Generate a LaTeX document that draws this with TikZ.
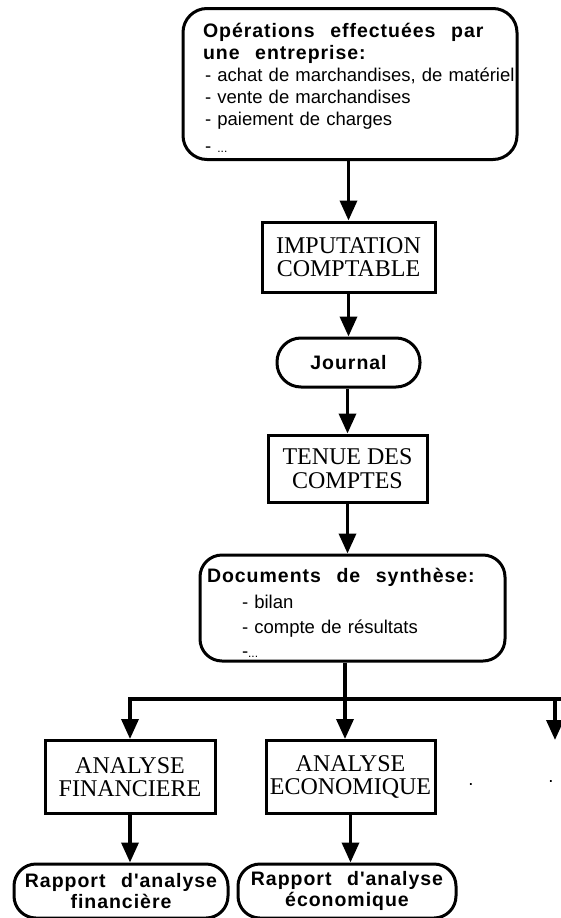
\documentclass[tikz,border=0pt]{standalone}
\usepackage{fontspec}
\usetikzlibrary{arrows.meta}
\setmainfont{Liberation Serif}
\newfontfamily\plainsans{Liberation Sans}
\newfontfamily\heavysans[LetterSpace=5]{Liberation Sans}

% text faces used in the chart
\newcommand{\capsfont}{\fontsize{24}{23.5}\selectfont}
\newcommand{\sansreg}{\plainsans\fontsize{18.5}{21.5}\selectfont}
\newcommand{\hb}[1]{{\heavysans\bfseries\fontsize{19.5}{21.5}\selectfont\spaceskip=0.8em\relax #1}}

\tikzset{
  sqbox/.style={draw, line width=3pt, font=\capsfont, align=center, inner sep=0pt},
  rndbox/.style={draw, line width=3pt, rounded corners=24pt, inner sep=0pt},
  arr/.style={line width=3.5pt, -{Triangle[width=17pt,length=20pt]}},
  link/.style={line width=3.5pt},
  dotmark/.style={inner sep=0pt, anchor=base, font=\sansreg},
}

\begin{document}
\begin{tikzpicture}[x=1pt, y=-1pt]
\useasboundingbox (0,0) rectangle (560,918);

% operations recorded by the firm
\node[rndbox, minimum width=334pt, minimum height=151pt, text width=330pt,
      inner xsep=2pt, align=left, font=\sansreg] (ops) at (350,84)
  {\rule{0pt}{22pt}\hspace*{18pt}\hb{Opérations effectuées par}\\
   \hspace*{18pt}\hb{une entreprise:}\\[1pt]
   \hspace*{20pt}- achat de marchandises, de matériel\\
   \hspace*{20pt}- vente de marchandises\\[1pt]
   \hspace*{20pt}- paiement de charges\\[5pt]
   \hspace*{20pt}- {\fontsize{12}{12}\selectfont ...}};

\node[sqbox, minimum width=173pt, minimum height=70pt] (imp) at (348.5,257)
  {IMPUTATION\\COMPTABLE};

\node[rndbox, minimum width=143pt, minimum height=49pt, font=\sansreg] (jrn) at (348.5,362.5)
  {\hb{Journal}};

\node[sqbox, minimum width=159pt, minimum height=67pt] (ten) at (347.5,468.5)
  {TENUE DES\\COMPTES};

% summary documents
\node[rndbox, rounded corners=22pt, minimum width=305pt, minimum height=106pt,
      text width=291pt, inner xsep=7pt, align=left,
      font=\plainsans\fontsize{18.5}{24.5}\selectfont] (docs) at (352.5,608)
  {\rule{0pt}{24pt}\hb{Documents de synthèse:}\\[2pt]
   \hspace*{35pt}- bilan\\
   \hspace*{35pt}- compte de résultats\\
   \hspace*{35pt}-{\fontsize{12}{12}\selectfont ...}};

\node[sqbox, minimum width=170pt, minimum height=73pt] (fin) at (130,777)
  {ANALYSE\\FINANCIERE};
\node[sqbox, minimum width=169pt, minimum height=73pt] (eco) at (350.5,777)
  {ANALYSE\\ECONOMIQUE};

\node[rndbox, rounded corners=22pt, minimum width=214pt, minimum height=54pt,
      align=center, font=\sansreg] (rfin) at (121,891)
  {\hb{Rapport d'analyse}\\\hb{financière}};
\node[rndbox, rounded corners=22pt, minimum width=218pt, minimum height=54pt,
      align=center, font=\sansreg] (reco) at (347,891)
  {\hb{Rapport d'analyse}\\\hb{économique}};

% further branches, only hinted at
\node[dotmark] (dotA) at (471,785) {.};
\node[dotmark] (dotB) at (551,782) {.};

\coordinate (hub) at (345,699);
\coordinate (more) at (555,740);
\coordinate (edge) at (565,699);

% flow connectors
\draw[arr] (ops.south -| imp) -- (imp.north);
\draw[arr] (imp.south -| jrn) -- (jrn.north);
\draw[arr] (jrn.south -| ten) -- (ten.north);
\draw[arr] (ten.south) -- (ten.south |- docs.north);
\draw[link] (docs.south -| hub) -- (hub);
\draw[link] (hub) -- (edge);
\draw[arr] (hub) -| (fin.north);
\draw[arr] (hub) -- (hub |- eco.north);
\draw[arr] (hub) -| (more);
\draw[arr] (fin.south) -- (fin.south |- rfin.north);
\draw[arr] (eco.south) -- (eco.south |- reco.north);
\end{tikzpicture}
\end{document}
